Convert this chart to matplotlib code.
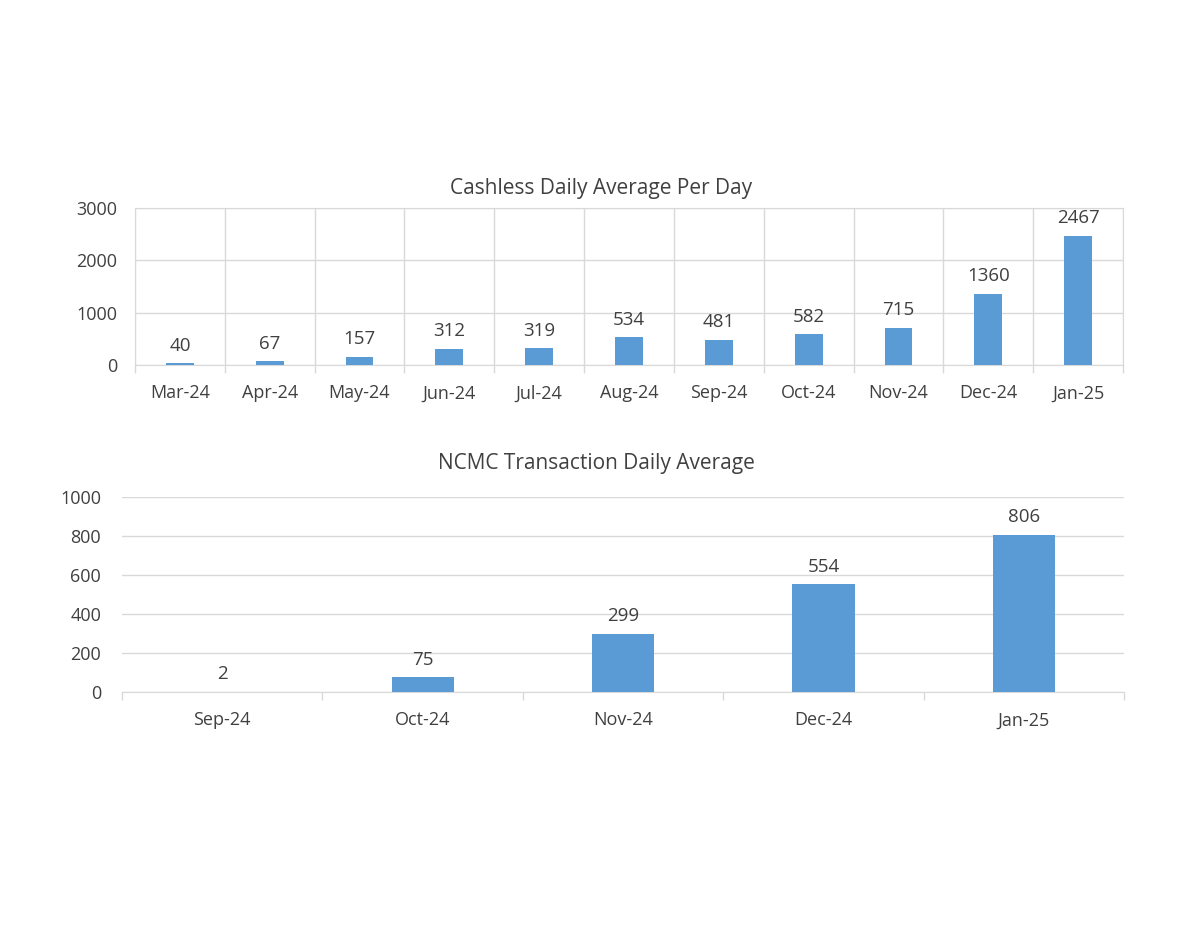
import numpy as np
import matplotlib.pyplot as plt

plt.rcParams['font.family'] = ['Open Sans', 'DejaVu Sans']

cash_months = ['Mar-24', 'Apr-24', 'May-24', 'Jun-24', 'Jul-24', 'Aug-24',
               'Sep-24', 'Oct-24', 'Nov-24', 'Dec-24', 'Jan-25']
cash_values = [40, 67, 157, 312, 319, 534, 481, 582, 715, 1360, 2467]

ncmc_months = ['Sep-24', 'Oct-24', 'Nov-24', 'Dec-24', 'Jan-25']
ncmc_values = [2, 75, 299, 554, 806]

bar_color = '#5B9BD5'
text_color = '#404040'
grid_color = '#D9D9D9'


def draw(ax, labels, values, ymax, step, vgrid, ypad):
    x = np.arange(len(labels))
    ax.bar(x, values, width=0.31, color=bar_color, zorder=3)
    ax.set_xlim(-0.5, len(labels) - 0.5)
    ax.set_ylim(0, ymax)
    ax.set_yticks(np.arange(0, ymax + 1, step))
    ax.set_xticks(x)
    ax.set_xticklabels(labels)
    # category boundary ticks
    ax.set_xticks(np.arange(-0.5, len(labels)), minor=True)
    ax.tick_params(axis='x', which='major', length=0, pad=14,
                   labelsize=13, labelcolor=text_color)
    ax.tick_params(axis='x', which='minor', length=6, color=grid_color, width=1)
    ax.tick_params(axis='y', length=0, pad=ypad, labelsize=13, labelcolor=text_color)
    ax.yaxis.grid(True, color=grid_color, lw=1, zorder=0)
    if vgrid:
        ax.xaxis.grid(True, which='minor', color=grid_color, lw=1, zorder=0)
    for s in ['top', 'right', 'left']:
        ax.spines[s].set_visible(False)
    ax.spines['bottom'].set_color(grid_color)
    if vgrid:
        for s in ['top', 'right', 'left']:
            ax.spines[s].set_visible(True)
            ax.spines[s].set_color(grid_color)
    for xi, v in zip(x, values):
        ax.annotate(str(v), (xi, v), xytext=(0, 6), textcoords='offset points',
                    ha='center', va='bottom', fontsize=13.5, color=text_color)


fig = plt.figure(figsize=(12, 9.27), dpi=100)
ax1 = fig.add_axes([0.1125, 0.6063, 0.8233, 0.1694])
ax2 = fig.add_axes([0.1017, 0.2535, 0.8350, 0.2104])

draw(ax1, cash_months, cash_values, 3000, 1000, True, 13)
draw(ax2, ncmc_months, ncmc_values, 1000, 200, False, 15)

fig.text(0.501, 0.797, 'Cashless Daily Average Per Day', ha='center', va='center',
         fontsize=15, color=text_color)
fig.text(0.497, 0.4995, 'NCMC Transaction Daily Average', ha='center', va='center',
         fontsize=15, color=text_color)

fig.savefig('out.png', dpi=100)
